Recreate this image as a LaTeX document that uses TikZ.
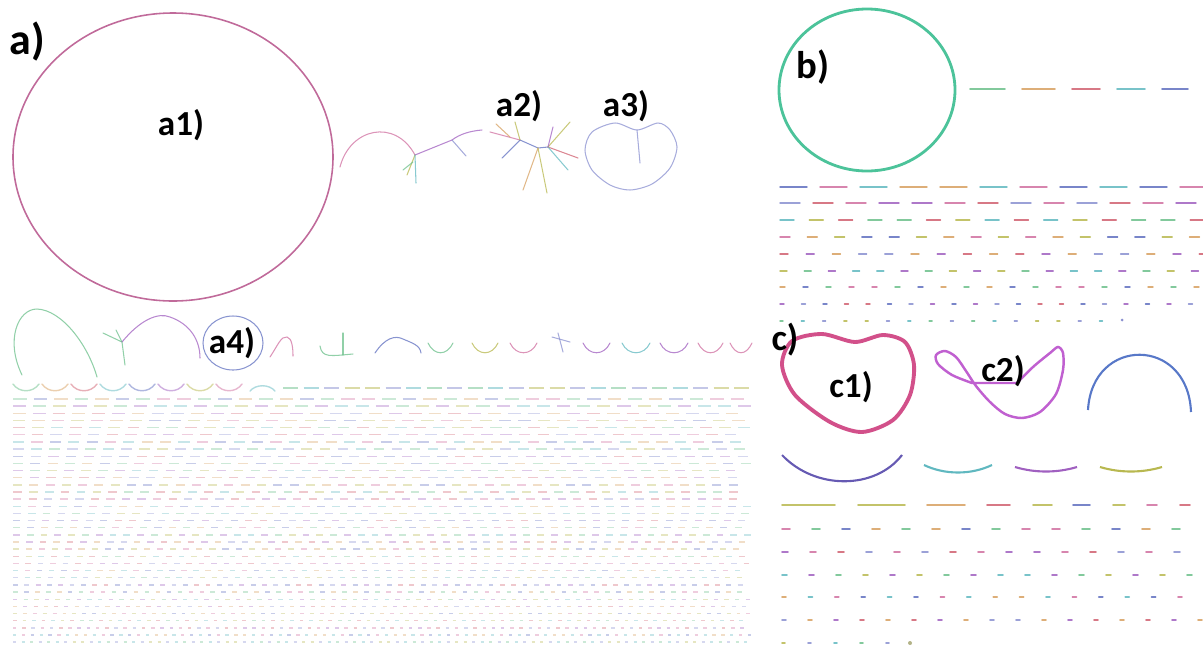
\documentclass[tikz,border=0pt]{standalone}
\usepackage{fontspec}
\setmainfont{Carlito}
\usepackage{tikz}
\usetikzlibrary{calc}
\definecolor{loopmagenta}{HTML}{C06A9A}
\definecolor{ringgreen}{HTML}{4CC39A}
\definecolor{heartpink}{HTML}{D2508A}
\definecolor{knotviolet}{HTML}{C060D0}
\definecolor{archblue}{HTML}{5878C8}
\definecolor{hue0}{HTML}{6CC08B}
\definecolor{hue1}{HTML}{D7A060}
\definecolor{hue2}{HTML}{D06070}
\definecolor{hue3}{HTML}{60B8C0}
\definecolor{hue4}{HTML}{6070C0}
\definecolor{hue5}{HTML}{A060C0}
\definecolor{hue6}{HTML}{B8B850}
\definecolor{hue7}{HTML}{D070A0}
\definecolor{hue8}{HTML}{8A90D0}

\begin{document}
\begin{tikzpicture}[
  x=0.02cm, y=-0.02cm,
  panel/.style={font=\fontsize{25}{27}\selectfont\bfseries, inner sep=0pt},
  tag/.style={font=\fontsize{20}{22}\selectfont\bfseries, inner sep=0pt},
  strand/.style={line width=0.6pt, line cap=round, opacity=0.75},
  bit/.style={line width=1pt, line cap=round, opacity=0.85},
  faint/.style={line width=0.8pt, line cap=butt, opacity=0.35}
]
\useasboundingbox (0,0) rectangle (1203,653);

% panel a
\node[panel] (pa) at (27,42) {a)};
\draw[loopmagenta, line width=0.9pt] (173,157) ellipse [x radius=160, y radius=144];
\node[tag] (a1) at (181,125) {a1)};

% a2, branched strands
\draw[strand, hue7] (340,167) .. controls (350,128) and (395,118) .. (415,155);
\draw[strand, hue5] (415,155) -- (452,140) .. controls (460,134) and (470,131) .. (482,130);
\draw[strand, hue6] (415,155) -- (407,175);
\draw[strand, hue3] (415,155) -- (416,183);
\draw[strand, hue0] (413,162) -- (403,170);
\draw[strand, hue8] (452,140) -- (466,156);
\draw[strand, hue7] (490,132) -- (520,140);
\draw[strand, hue1] (496,124) -- (510,137);
\draw[strand, hue4] (520,140) -- (538,148) -- (548,147);
\draw[strand, hue4] (520,140) -- (502,158);
\draw[strand, hue6] (520,140) -- (515,122);
\draw[strand, hue1] (538,148) -- (523,190);
\draw[strand, hue6] (538,148) -- (547,193);
\draw[strand, hue6] (548,147) -- (570,122);
\draw[strand, hue5] (548,147) -- (553,127);
\draw[strand, hue2] (548,147) -- (578,158);
\draw[strand, hue3] (548,147) -- (568,170);
\node[tag] (a2) at (519,106) {a2)};

% a3
\draw[strand, hue8] plot[smooth cycle] coordinates {(637,130) (615,123) (592,132) (585,150) (592,170) (610,185) (630,190) (652,184) (670,168) (677,147) (670,130) (658,123)};
\draw[strand, hue8] (637,130) -- (640,163);
\node[tag] (a3) at (626,106) {a3)};

% a4 row
\draw[strand, hue0] (22,375) .. controls (5,340) and (18,309) .. (37,309) .. controls (62,310) and (88,345) .. (97,377);
\draw[strand, hue0] (103,333) -- (122,342);
\draw[strand, hue0] (116,330) -- (122,342) -- (125,365);
\draw[strand, hue5] (122,342) .. controls (140,320) and (158,312) .. (170,317) .. controls (190,324) and (200,340) .. (200,358);
\draw[strand, hue4] (233,343) ellipse [x radius=30, y radius=27];
\node[tag] (a4) at (232,343) {a4)};
\draw[strand, hue7] (270,357) .. controls (278,345) and (281,336) .. (287,337) .. controls (292,338) and (293,348) .. (293,356);
\draw[strand, hue0] (320,346) .. controls (322,358) and (330,356) .. (353,354);
\draw[strand, hue0] (343,333) -- (343,355);
\draw[strand, hue4] (375,353) .. controls (385,338) and (395,335) .. (403,339) .. controls (412,343) and (420,345) .. (421,353);
\foreach \ua/\ub/\uc in {428/453/hue0, 472/498/hue6, 510/537/hue7, 583/610/hue5, 622/650/hue3, 660/688/hue5, 698/723/hue7, 730/752/hue7}
  \draw[strand, \uc] (\ua,343) .. controls ({\ua+6},356) and ({\ub-6},356) .. (\ub,343);
\draw[strand, hue8] (552,337) -- (570,342);
\draw[strand, hue8] (558,333) -- (563,352);

% a, grid of short strands
\foreach \i in {0,...,7}
  \draw[faint, hue\i, opacity=0.5, line cap=round] ({13+29*\i},384) .. controls ({19+29*\i},393) and ({33+29*\i},393) .. ({39+29*\i},384);
\draw[faint, hue3, opacity=0.5, line cap=round] (250,391) .. controls (256,384) and (269,384) .. (275,391);
\foreach \i in {0,...,22}{
  \pgfmathtruncatemacro\ci{mod(\i*\i+2*\i,9)}
  \draw[faint, hue\ci, opacity=0.5] ({283+20.5*\i},388) -- ++(15,0);
}
\foreach \r in {0,...,34}{
  \pgfmathsetmacro\gy{399+7.15*\r}
  \pgfmathsetmacro\gs{20.5-12*\r/34}
  \pgfmathsetmacro\gl{\gs*(0.66-0.3*\r/34)}
  \pgfmathtruncatemacro\gn{(739-\gl)/\gs}
  \foreach \c in {0,...,\gn}{
    \pgfmathtruncatemacro\ci{mod(\r*5+\c*\c+3*\c,9)}
    \draw[faint, hue\ci] ({13+\c*\gs},\gy) -- ++(\gl,0);
  }
}

% panel b
\draw[ringgreen, line width=1.6pt] (867,90) ellipse [x radius=88, y radius=81];
\node[tag, font=\fontsize{22}{24}\selectfont\bfseries] (pb) at (813,67) {b)};
\foreach \bx/\bl/\bc in {970/35/hue0, 1022/33/hue1, 1072/28/hue2, 1117/28/hue3, 1162/26/hue4}
  \draw[bit, \bc] (\bx,89) -- ++(\bl,0);
\foreach \by/\bn/\bs/\bl [count=\r] in {187/10/40/27, 203/12/33/20, 220/14/29.3/14, 237/15/27.3/10, 254/16/26.2/8, 271/17/24.2/7, 287/18/23/5, 304/19/21.5/4, 321/15/21.3/3}{
  \foreach \c in {0,...,\bn}{
    \pgfmathtruncatemacro\ci{mod(\r*4+\c*\c+2*\c,9)}
    \draw[bit, hue\ci, line width=0.8pt] ({780+\c*\bs},\by) -- ++(\bl,0);
  }
}
\fill[hue8] (1122,320) circle [radius=1.5];

% panel c
\draw[heartpink, line width=2.2pt] plot[smooth cycle] coordinates {(855,342) (822,334) (792,341) (782,365) (795,395) (830,422) (862,432) (893,420) (910,395) (914,365) (905,342) (883,335)};
\node[panel, font=\fontsize{21}{23}\selectfont\bfseries] (pc) at (785,340) {c)};
\node[tag] (c1) at (851,387) {c1)};
\draw[knotviolet, line width=1.4pt] plot[smooth] coordinates {(1017,383) (1033,367) (1050,353) (1058,347) (1063,353) (1063,370) (1056,394) (1040,412) (1022,418) (1005,414) (990,402) (976,386) (966,371) (956,357) (945,351) (936,355) (938,364) (952,375) (972,383)} -- (1017,383);
\node[tag] (c2) at (1003,371) {c2)};
\draw[archblue, line width=1.2pt] (1088,410) .. controls (1092,336) and (1188,336) .. (1191,412);
\draw[hue4!80!violet, line width=1.2pt] (782,455) .. controls (815,490) and (875,490) .. (902,455);
\draw[hue3, line width=1.2pt] (924,465) .. controls (945,475) and (971,475) .. (992,465);
\draw[hue5, line width=1.2pt] (1015,467) .. controls (1035,473) and (1057,473) .. (1077,467);
\draw[hue6, line width=1.2pt] (1100,467) .. controls (1120,473) and (1142,473) .. (1162,467);
\foreach \ca/\cb/\cc in {782/835/hue6, 858/905/hue6, 927/965/hue1, 987/1010/hue2, 1033/1052/hue6, 1073/1090/hue4, 1113/1125/hue6, 1147/1157/hue7, 1180/1190/hue2}
  \draw[bit, \cc] (\ca,505) -- (\cb,505);
\foreach \cy/\cn/\cs/\cl [count=\r] in {529/13/30/8, 552/14/28/6, 575/15/27/5, 597/15/26.4/4, 620/16/26/4, 643/4/26/3}{
  \foreach \c in {0,...,\cn}{
    \pgfmathtruncatemacro\ci{mod(\r*7+\c*\c+\c,9)}
    \draw[bit, hue\ci] ({782+\c*\cs},\cy) -- ++(\cl,0);
  }
}
\fill[hue6!70!black, opacity=0.6] (910,643) circle [radius=2];
\end{tikzpicture}
\end{document}
